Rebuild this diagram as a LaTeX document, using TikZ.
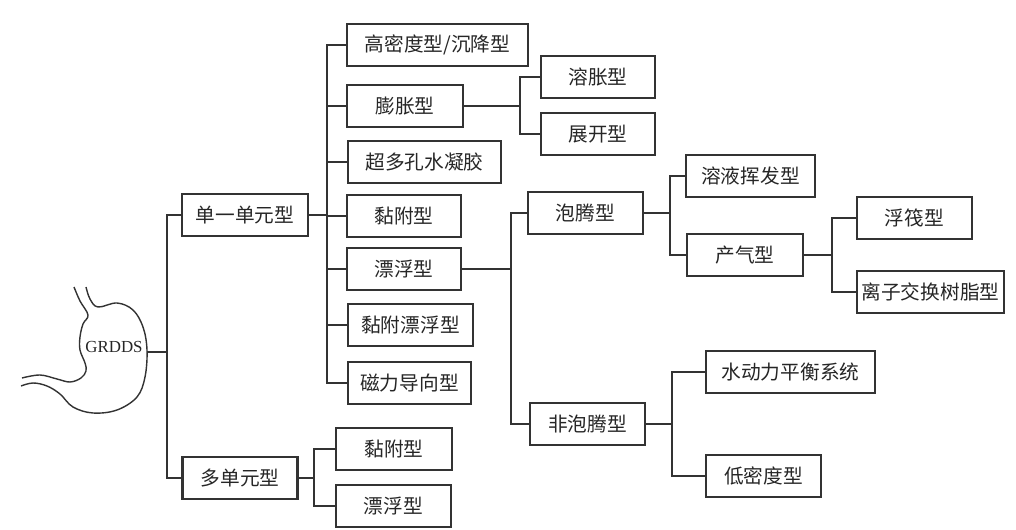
\documentclass[tikz,border=0pt]{standalone}
\usepackage{fontspec}
\setmainfont{Liberation Serif}
\newfontfamily\cjk{Noto Sans CJK SC}
\usetikzlibrary{calc}
\newcommand{\mylinecolor}{black!80}
\newcommand{\mytextcolor}{black!85}
\tikzset{
  box/.style={draw=\mylinecolor, line width=1.5pt, inner sep=0pt, minimum height=1.05cm,
    font=\cjk\fontsize{14}{16}\selectfont, text=\mytextcolor},
  wd/.style={minimum width=#1*0.025cm},
  link/.style={draw=\mylinecolor, line width=1.1pt}
}

\begin{document}
\begin{tikzpicture}[x=0.025cm, y=-0.025cm]
 \useasboundingbox (0,0) rectangle (1016,530);

 % stomach
 \draw[\mylinecolor, line width=1pt] plot[smooth, tension=0.6] coordinates
   {(74,287) (80,301) (88,315) (83,324) (80,337) (80,350) (85,363) (86,371) (81,378) (70,382) (57,379) (40,375) (22,378)};
 \draw[\mylinecolor, line width=1pt] plot[smooth, tension=0.6] coordinates
   {(86,287) (90,299) (98,307) (117,303) (133,310) (143,327) (147,350) (145,377) (137,397) (117,410) (93,413) (73,407) (60,394) (47,386) (33,383) (21,386)};
 \node[font=\fontsize{12}{14}\selectfont, text=\mytextcolor] (grdds) at (114,347) {GRDDS};
 \coordinate (stom) at (147,352);

 % first level
 \node[box, wd=126] (single) at (245,215) {单一单元型};
 \node[box, wd=115] (multi) at (240,478) {多单元型};

 % single unit
 \node[box, wd=181] (heavy) at (437.5,45) {高密度型/沉降型};
 \node[box, wd=116] (swell) at (405,106) {膨胀型};
 \node[box, wd=153] (hydro) at (424.5,162) {超多孔水凝胶};
 \node[box, wd=114] (adh) at (404,216) {黏附型};
 \node[box, wd=114] (float) at (404,269) {漂浮型};
 \node[box, wd=125] (adhfloat) at (410.5,325) {黏附漂浮型};
 \node[box, wd=123] (magnet) at (409.5,383) {磁力导向型};

 \node[box, wd=114] (swellA) at (598,77) {溶胀型};
 \node[box, wd=114] (swellB) at (598,134) {展开型};

 \node[box, wd=115] (eff) at (585.5,213) {泡腾型};
 \node[box, wd=115] (noneff) at (587.5,424) {非泡腾型};

 \node[box, wd=129] (solvent) at (750.5,176) {溶液挥发型};
 \node[box, wd=116] (gas) at (745,255) {产气型};
 \node[box, wd=115] (raft) at (914.5,218) {浮筏型};
 \node[box, wd=147] (resin) at (930.5,292) {离子交换树脂型};

 \node[box, wd=169] (hbs) at (790.5,372) {水动力平衡系统};
 \node[box, wd=115] (lowdens) at (763.5,476) {低密度型};

 % multiple unit
 \node[box, wd=116] (madh) at (394,449) {黏附型};
 \node[box, wd=115] (mfloat) at (393.5,506) {漂浮型};

 % connectors
 \coordinate (j0) at (167,352);
 \draw[link] (stom) -- (j0);
 \draw[link] (j0) |- (single.west);
 \draw[link] (j0) |- (multi.west);

 \coordinate (j1) at (327,215);
 \draw[link] (single.east) -- (j1);
 \foreach \n in {heavy,swell,hydro,adh,float,adhfloat,magnet}
   \draw[link] (j1) |- (\n.west);

 \coordinate (j2) at (520,106);
 \draw[link] (swell.east) -- (j2);
 \foreach \n in {swellA,swellB}
   \draw[link] (j2) |- (\n.west);

 \coordinate (j3) at (511,269);
 \draw[link] (float.east) -- (j3);
 \foreach \n in {eff,noneff}
   \draw[link] (j3) |- (\n.west);

 \coordinate (j4) at (670,213);
 \draw[link] (eff.east) -- (j4);
 \foreach \n in {solvent,gas}
   \draw[link] (j4) |- (\n.west);

 \coordinate (j5) at (832,255);
 \draw[link] (gas.east) -- (j5);
 \foreach \n in {raft,resin}
   \draw[link] (j5) |- (\n.west);

 \coordinate (j6) at (672,424);
 \draw[link] (noneff.east) -- (j6);
 \foreach \n in {hbs,lowdens}
   \draw[link] (j6) |- (\n.west);

 \coordinate (j7) at (314,478);
 \draw[link] (multi.east) -- (j7);
 \foreach \n in {madh,mfloat}
   \draw[link] (j7) |- (\n.west);

\end{tikzpicture}
\end{document}
